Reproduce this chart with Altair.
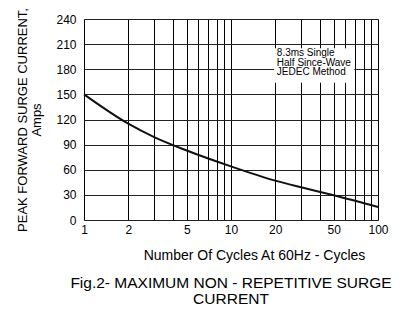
import altair as alt
import pandas as pd

cycles = [1, 2, 3, 5, 10, 20, 30, 50, 100]
current = [150, 115, 99, 83, 64, 47, 39, 29.5, 15.5]

x_grid = [1, 2, 3, 4, 5, 6, 7, 8, 9, 10, 20, 30, 40, 50, 60, 70, 80, 90, 100]
x_labels = [1, 2, 5, 10, 20, 50, 100]
y_ticks = [0, 30, 60, 90, 120, 150, 180, 210, 240]

note_lines = ["8.3ms Single", "Half Since-Wave", "JEDEC Method"]

FONT = "Liberation Sans"

df = pd.DataFrame({"cycles": cycles, "current": current})

xscale = alt.Scale(type="log", domain=[1, 100], nice=False)
yscale = alt.Scale(domain=[0, 240], nice=False)

label_list = "[" + ",".join(str(v) for v in x_labels) + "]"

xaxis = alt.Axis(
    values=x_grid,
    labelExpr=f"indexof({label_list}, datum.value) >= 0 ? datum.label : ''",
    grid=True, gridColor="#000", gridWidth=1, gridOpacity=1,
    ticks=False, domain=False,
    labelFont=FONT, labelFontSize=12, labelColor="#000", labelPadding=4,
    labelFlush=False, labelOverlap=False,
    title="Number Of Cycles At 60Hz - Cycles",
    titleFont=FONT, titleFontSize=14, titleFontWeight="normal", titleColor="#000",
    titlePadding=13, titleX=170, titleAnchor="middle",
)
yaxis = alt.Axis(
    values=y_ticks,
    grid=True, gridColor="#222", gridWidth=1, gridOpacity=1,
    ticks=False, domain=False,
    labelFont=FONT, labelFontSize=12, labelColor="#000", labelPadding=8,
    labelOverlap=False, labelFlush=False,
    title=["PEAK FORWARD SURGE CURRENT,", "Amps"],
    titleFont=FONT, titleFontSize=13, titleFontWeight="normal", titleColor="#000",
    titlePadding=12, titleLineHeight=14,
)

curve = alt.Chart(df).mark_line(color="#111", strokeWidth=2, interpolate="monotone").encode(
    x=alt.X("cycles:Q", scale=xscale, axis=xaxis),
    y=alt.Y("current:Q", scale=yscale, axis=yaxis),
)

box_df = pd.DataFrame({"x": [19.6], "x2": [69], "y": [205], "y2": [164]})
box = alt.Chart(box_df).mark_rect(fill="white").encode(
    x=alt.X("x:Q", scale=xscale, axis=xaxis), x2="x2:Q",
    y=alt.Y("y:Q", scale=yscale, axis=yaxis), y2="y2:Q",
)

note_df = pd.DataFrame({"x": [20.5], "y": [199.5], "t": ["\n".join(note_lines)]})
note = alt.Chart(note_df).mark_text(
    align="left", baseline="middle", font=FONT, fontSize=10, color="#000",
    lineBreak="\n", lineHeight=9.6,
).encode(
    x=alt.X("x:Q", scale=xscale, axis=xaxis),
    y=alt.Y("y:Q", scale=yscale, axis=yaxis),
    text="t:N",
)

chart = alt.layer(curve, box, note).properties(
    width=294, height=201,
    autosize=alt.AutoSizeParams(type="none"),
    padding={"left": 84, "top": 19, "right": 35, "bottom": 108},
    title=alt.TitleParams(
        text=["Fig.2- MAXIMUM NON - REPETITIVE SURGE", "CURRENT"],
        orient="bottom", anchor="middle", font=FONT, fontSize=15.5,
        fontWeight="normal", color="#000", lineHeight=16, offset=14,
    ),
).configure_view(stroke="#000", strokeWidth=1.5).configure(background="white")

chart.save("out.html", embed_options={"renderer": "svg", "actions": False})
